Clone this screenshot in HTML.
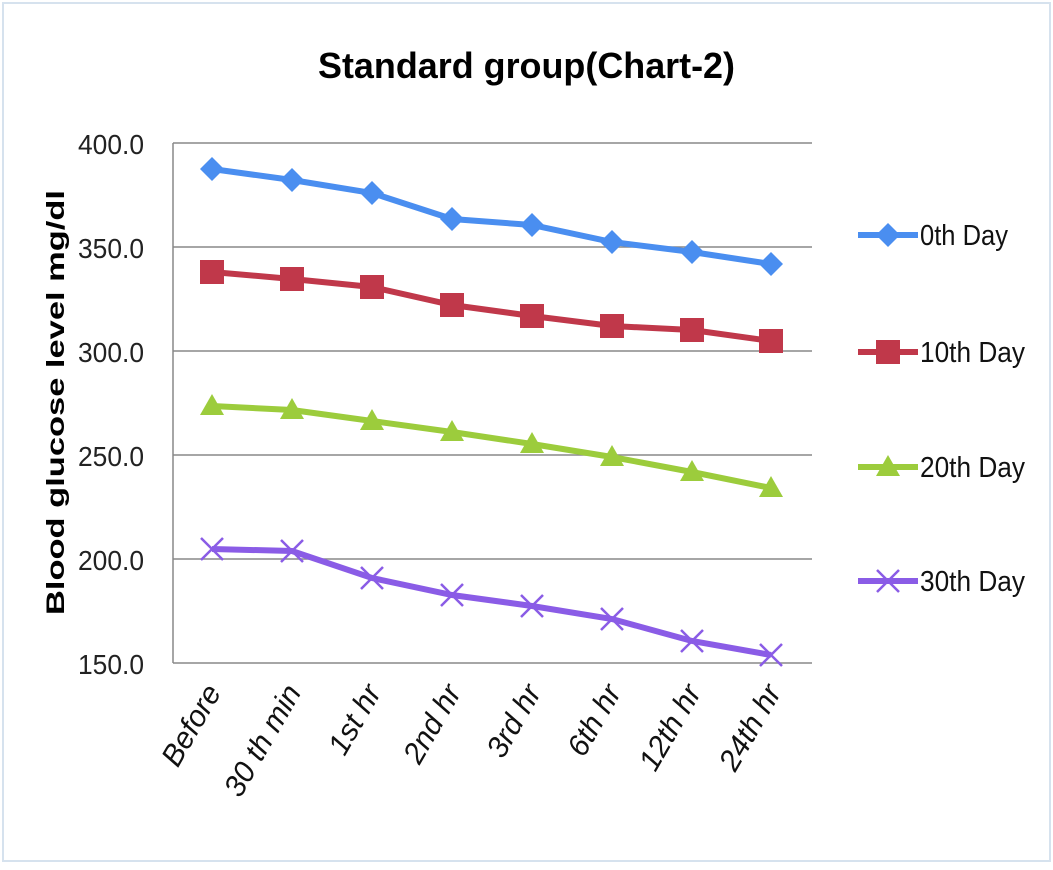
<!DOCTYPE html>
<html><head><style>
body{margin:0;background:#fff;}
svg{display:block;font-family:"Liberation Sans",sans-serif;}
</style></head><body>
<svg width="1053" height="870" viewBox="0 0 1053 870">
<rect x="0" y="0" width="1053" height="870" fill="#fff"/>
<rect x="3" y="3" width="1047" height="858" fill="none" stroke="#d6e2ee" stroke-width="2"/>
<text x="318" y="78" font-size="36" font-weight="bold" textLength="417" lengthAdjust="spacingAndGlyphs" fill="#000">Standard group(Chart-2)</text>
<g stroke="#888" stroke-width="1.5">
<line x1="173" y1="143" x2="812" y2="143"/>
<line x1="173" y1="247" x2="812" y2="247"/>
<line x1="173" y1="351" x2="812" y2="351"/>
<line x1="173" y1="455" x2="812" y2="455"/>
<line x1="173" y1="559" x2="812" y2="559"/>
<line x1="173" y1="663" x2="812" y2="663"/>
<line x1="173" y1="143" x2="173" y2="663"/>
</g>
<g font-size="28" fill="#222">
<text x="78" y="154" textLength="66" lengthAdjust="spacingAndGlyphs">400.0</text>
<text x="78" y="258" textLength="66" lengthAdjust="spacingAndGlyphs">350.0</text>
<text x="78" y="362" textLength="66" lengthAdjust="spacingAndGlyphs">300.0</text>
<text x="78" y="466" textLength="66" lengthAdjust="spacingAndGlyphs">250.0</text>
<text x="78" y="570" textLength="66" lengthAdjust="spacingAndGlyphs">200.0</text>
<text x="78" y="674" textLength="66" lengthAdjust="spacingAndGlyphs">150.0</text>
</g>
<text transform="translate(64 615) rotate(-90)" font-size="25" font-weight="bold" textLength="425" lengthAdjust="spacingAndGlyphs">Blood glucose level mg/dl</text>
<g font-size="30" font-style="italic" text-anchor="end" fill="#111">
<text transform="translate(222 692) rotate(-60)">Before</text>
<text transform="translate(302 692) rotate(-60)">30 th min</text>
<text transform="translate(382 692) rotate(-60)">1st hr</text>
<text transform="translate(462 692) rotate(-60)">2nd hr</text>
<text transform="translate(542 692) rotate(-60)">3rd hr</text>
<text transform="translate(622 692) rotate(-60)">6th hr</text>
<text transform="translate(702 692) rotate(-60)">12th hr</text>
<text transform="translate(782 692) rotate(-60)">24th hr</text>
</g>
<polyline fill="none" stroke="#4a8ef0" stroke-width="6" points="212,169 292,180 372,193 452,219 532,225 612,242 692,252 771,264"/>
<g fill="#4a8ef0">
<path d="M212 157l12 12-12 12-12-12z"/><path d="M292 168l12 12-12 12-12-12z"/><path d="M372 181l12 12-12 12-12-12z"/><path d="M452 207l12 12-12 12-12-12z"/><path d="M532 213l12 12-12 12-12-12z"/><path d="M612 230l12 12-12 12-12-12z"/><path d="M692 240l12 12-12 12-12-12z"/><path d="M771 252l12 12-12 12-12-12z"/>
</g>
<polyline fill="none" stroke="#c0384a" stroke-width="6" points="212,272 292,279 372,287 452,305 532,316 612,326 692,330 771,341"/>
<g fill="#c0384a">
<rect x="200" y="260" width="24" height="24"/><rect x="280" y="267" width="24" height="24"/><rect x="360" y="275" width="24" height="24"/><rect x="440" y="293" width="24" height="24"/><rect x="520" y="304" width="24" height="24"/><rect x="600" y="314" width="24" height="24"/><rect x="680" y="318" width="24" height="24"/><rect x="759" y="329" width="24" height="24"/>
</g>
<polyline fill="none" stroke="#9ccc3c" stroke-width="6" points="212,406 292,410 372,421 452,432 532,444 612,457 692,472 771,488"/>
<g fill="#9ccc3c">
<path d="M212 394l12 21h-24z"/><path d="M292 398l12 21h-24z"/><path d="M372 409l12 21h-24z"/><path d="M452 420l12 21h-24z"/><path d="M532 432l12 21h-24z"/><path d="M612 445l12 21h-24z"/><path d="M692 460l12 21h-24z"/><path d="M771 476l12 21h-24z"/>
</g>
<polyline fill="none" stroke="#8a5ce6" stroke-width="6" points="212,549 292,551 372,578 452,595 532,606 612,619 692,641 771,655"/>
<g stroke="#8a5ce6" stroke-width="2.5">
<path d="M201 538l22 22M223 538l-22 22"/><path d="M281 540l22 22M303 540l-22 22"/><path d="M361 567l22 22M383 567l-22 22"/><path d="M441 584l22 22M463 584l-22 22"/><path d="M521 595l22 22M543 595l-22 22"/><path d="M601 608l22 22M623 608l-22 22"/><path d="M681 630l22 22M703 630l-22 22"/><path d="M760 644l22 22M782 644l-22 22"/>
</g>
<g font-size="29" fill="#111">
<line x1="858" y1="235" x2="918" y2="235" stroke="#4a8ef0" stroke-width="6"/><path d="M888 223l12 12-12 12-12-12z" fill="#4a8ef0"/>
<text x="920" y="245" textLength="88" lengthAdjust="spacingAndGlyphs">0th Day</text>
<line x1="858" y1="352" x2="918" y2="352" stroke="#c0384a" stroke-width="6"/><rect x="876" y="340" width="24" height="24" fill="#c0384a"/>
<text x="920" y="362" textLength="105" lengthAdjust="spacingAndGlyphs">10th Day</text>
<line x1="858" y1="467" x2="918" y2="467" stroke="#9ccc3c" stroke-width="6"/><path d="M888 455l12 21h-24z" fill="#9ccc3c"/>
<text x="920" y="477" textLength="105" lengthAdjust="spacingAndGlyphs">20th Day</text>
<line x1="858" y1="581" x2="918" y2="581" stroke="#8a5ce6" stroke-width="6"/><path d="M877 570l22 22M899 570l-22 22" stroke="#8a5ce6" stroke-width="2.5"/>
<text x="920" y="591" textLength="105" lengthAdjust="spacingAndGlyphs">30th Day</text>
</g>
</svg>
</body></html>
